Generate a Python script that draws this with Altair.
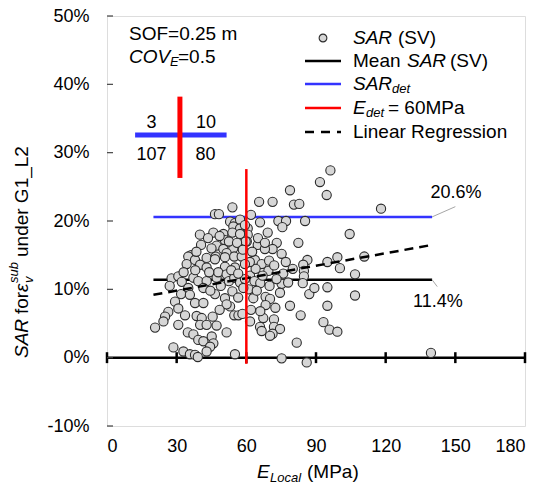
import altair as alt
import pandas as pd

# ---------------- data ----------------
# quadrant: above SAR_det, left of E_det (3)
e_above_left = [54.0, 46.5, 48.2]
sar_above_left = [22.0, 21.0, 21.0]
# above SAR_det, right of E_det (10)
e_above_right = [96.2, 91.7, 94.6, 78.8, 71.3, 65.5, 80.5, 82.8, 118.0, 62.0]
sar_above_right = [27.4, 25.7, 23.8, 24.5, 22.8, 22.8, 22.4, 22.5, 21.8, 20.9]
# below SAR_det, right of E_det (80)
e_below_right = [73.8, 77.1, 75.5, 85.3, 104.5, 82.4, 73.1, 71.3, 75.2, 86.3,
                 84.5, 94.9, 99.2, 100.3, 110.8, 106.8, 84.8, 84.8, 75.9, 75.2,
                 84.3, 87.1, 89.3, 94.9, 106.8, 78.8, 94.9, 83.4, 93.2, 95.8,
                 99.2, 71.9, 71.9, 74.5, 71.3, 81.7, 75.2, 86.0, 139.5, 60.6,
                 60.6, 60.2, 65.9, 69.2, 64.9, 68.0, 63.7, 66.6, 69.8, 69.5,
                 61.6, 63.5, 66.0, 63.0, 68.3, 70.2, 68.3, 61.6, 65.9, 67.3,
                 66.6, 70.2, 62.5, 64.0, 67.0, 72.0, 73.0, 61.0, 64.5, 70.0,
                 62.0, 66.0, 72.5, 77.0, 78.0, 80.0, 61.5, 65.0, 68.0, 74.5]
sar_below_right = [20.0, 20.0, 19.1, 20.0, 18.1, 16.8, 16.8, 15.9, 15.2, 14.3,
                   13.6, 14.0, 14.7, 13.1, 14.8, 12.2, 12.7, 11.9, 12.3, 10.8,
                   10.9, 9.3, 10.2, 10.3, 9.1, 7.6, 7.6, 6.2, 5.2, 4.1,
                   3.8, 5.6, 4.5, 4.2, 3.5, 2.2, -0.1, -0.7, 0.7, 18.9,
                   18.0, 17.0, 19.8, 18.3, 16.5, 15.9, 14.3, 13.7, 14.2, 12.7,
                   12.0, 11.2, 10.9, 8.7, 8.9, 8.6, 7.7, 5.3, 4.5, 5.8,
                   3.9, 3.2, 15.5, 13.0, 12.0, 13.5, 11.5, 10.0, 9.8, 10.5,
                   7.0, 6.8, 7.3, 14.0, 11.0, 13.0, 14.0, 17.5, 16.8, 9.5]
# below SAR_det, left of E_det (107)
e_below_left = [53.0, 55.1, 57.3, 54.4, 57.3, 59.4, 45.8, 50.1, 50.8, 54.0,
                57.3, 59.7, 40.5, 47.2, 50.1, 54.4, 51.5, 36.2, 35.0, 42.9,
                46.8, 50.8, 54.8, 58.0, 34.3, 37.9, 40.1, 42.9, 46.5, 50.8,
                55.1, 59.4, 27.8, 30.7, 32.2, 37.2, 39.3, 42.9, 47.2, 47.9,
                51.5, 52.5, 54.8, 57.3, 59.4, 41.5, 35.0, 46.5, 50.8, 54.0,
                58.7, 31.9, 35.7, 29.3, 30.7, 37.9, 41.5, 53.0, 51.5, 26.4,
                25.0, 24.3, 20.7, 33.6, 38.6, 40.8, 40.1, 42.9, 47.2, 51.5,
                30.7, 34.8, 37.2, 39.3, 41.5, 45.1, 45.8, 44.4, 42.9, 54.8,
                56.6, 58.3, 28.6, 32.9, 35.7, 37.9, 39.1, 55.1, 40.0, 43.5,
                45.0, 48.5, 52.5, 56.0, 58.5, 38.5, 44.0, 49.0, 53.5, 56.5,
                33.0, 38.0, 44.5, 48.5, 56.5, 45.5, 27.0]
sar_below_left = [19.9, 19.7, 20.2, 19.2, 18.9, 19.4, 18.3, 18.1, 17.2, 18.3,
                  18.1, 17.0, 16.5, 16.4, 15.9, 16.0, 15.3, 15.0, 14.8, 14.6,
                  14.8, 14.7, 14.8, 14.8, 13.7, 14.3, 13.6, 13.2, 14.4, 13.3,
                  13.2, 13.7, 11.6, 11.9, 11.1, 11.7, 11.2, 11.2, 11.7, 12.5,
                  12.2, 11.2, 11.7, 11.0, 11.5, 10.2, 10.2, 9.3, 8.7, 9.7,
                  10.2, 9.3, 9.2, 8.2, 7.2, 8.0, 8.0, 7.5, 7.8, 6.7,
                  6.0, 5.3, 4.4, 6.2, 6.1, 5.8, 4.8, 4.8, 4.7, 3.7,
                  4.8, 3.7, 3.4, 2.6, 2.4, 3.1, 2.1, 1.6, 0.9, 6.2,
                  6.2, 6.4, 1.5, 0.9, 0.5, 0.4, 0.1, 0.5, 18.0, 17.5,
                  16.0, 17.8, 17.0, 16.8, 15.8, 15.5, 12.5, 10.5, 12.8, 12.3,
                  12.5, 12.8, 9.8, 7.0, 8.8, 6.0, 10.5]

mean_sar = 11.4
sar_det = 20.6
e_det = 60
line_x_range = [20, 140]
red_y_range = [-0.9, 27.6]
reg_x = [20, 140]
reg_y = [9.2, 16.5]
quadrant_labels = ["3", "10", "107", "80"]
x_ticks = [0, 30, 60, 90, 120, 150, 180]
y_ticks = [-10, 0, 10, 20, 30, 40, 50]

# ---------------- chart ----------------
FONT = "Liberation Sans"
BLUE = "#3333ff"
RED = "#ff0000"
W, H = 418, 410

xs = alt.Scale(domain=[0, 180], nice=False, zero=False)
ys = alt.Scale(domain=[-10, 50], nice=False, zero=False)

x_axis = alt.Axis(values=x_ticks, title=None, ticks=False, domain=False, grid=False,
                  labelFont=FONT, labelFontSize=18, labelColor="#000000", labelPadding=11)
y_axis = alt.Axis(values=y_ticks, title=None, ticks=False, domain=False, grid=False,
                  labelExpr="datum.value + '%'", labelFont=FONT, labelFontSize=18,
                  labelColor="#000000", labelPadding=18)


def X(f):
    return alt.X(f, scale=xs, axis=x_axis)


def Y(f):
    return alt.Y(f, scale=ys, axis=y_axis)


e_all = e_above_left + e_above_right + e_below_right + e_below_left
s_all = sar_above_left + sar_above_right + sar_below_right + sar_below_left
pts_df = pd.DataFrame({"E": e_all, "SAR": s_all})

one = pd.DataFrame({"k": [0]})

# zero line with ticks
zero_df = pd.DataFrame({"x": [0], "x2": [180], "y": [0]})
zero_line = alt.Chart(zero_df).mark_rule(color="#000000", strokeWidth=2.5).encode(
    x=X("x:Q"), x2="x2:Q", y=Y("y:Q"))
tick_df = pd.DataFrame({"x": x_ticks, "y": [0.8] * len(x_ticks), "y2": [-0.8] * len(x_ticks)})
zero_ticks = alt.Chart(tick_df).mark_rule(color="#000000", strokeWidth=2.5).encode(
    x=X("x:Q"), y=Y("y:Q"), y2="y2:Q")

ytick_df = pd.DataFrame({"y": y_ticks})
y_in_ticks = alt.Chart(ytick_df).mark_rule(color="#444444", strokeWidth=1.2).encode(
    y=Y("y:Q"), x=alt.value(0), x2=alt.value(6))


def hline(yv, color, width):
    df = pd.DataFrame({"x": [line_x_range[0]], "x2": [line_x_range[1]], "y": [yv]})
    return alt.Chart(df).mark_rule(color=color, strokeWidth=width).encode(
        x=X("x:Q"), x2="x2:Q", y=Y("y:Q"))


blue_line = hline(sar_det, BLUE, 2.5)
mean_line = hline(mean_sar, "#000000", 2.5)

points = alt.Chart(pts_df).mark_point(shape="circle", filled=True, fill="#d6d6d6",
                                      stroke="#2b2b2b", strokeWidth=1.1, size=85,
                                      opacity=1, fillOpacity=1, strokeOpacity=1).encode(
    x=X("E:Q"), y=Y("SAR:Q"))

reg_df = pd.DataFrame({"x": reg_x, "y": reg_y})
reg_line = alt.Chart(reg_df).mark_line(color="#000000", strokeWidth=2.5, strokeDash=[9, 6]).encode(
    x=X("x:Q"), y=Y("y:Q"))

red_df = pd.DataFrame({"x": [e_det], "y": [red_y_range[0]], "y2": [red_y_range[1]]})
red_line = alt.Chart(red_df).mark_rule(color=RED, strokeWidth=2.5).encode(
    x=X("x:Q"), y=Y("y:Q"), y2="y2:Q")

# inset cross
inset_h = alt.Chart(pd.DataFrame({"x": [12.1], "x2": [51.5], "y": [32.6]})).mark_rule(
    color=BLUE, strokeWidth=5).encode(x=X("x:Q"), x2="x2:Q", y=Y("y:Q"))
inset_v = alt.Chart(pd.DataFrame({"x": [31.4], "y": [26.3], "y2": [38.2]})).mark_rule(
    color=RED, strokeWidth=5).encode(x=X("x:Q"), y=Y("y:Q"), y2="y2:Q")
inset_txt_df = pd.DataFrame({"x": [19.2, 42.6, 19.2, 42.4], "y": [34.4, 34.4, 29.7, 29.7],
                             "t": quadrant_labels})
inset_txt = alt.Chart(inset_txt_df).mark_text(font=FONT, fontSize=18, color="#000000",
                                              align="center", baseline="middle").encode(
    x=X("x:Q"), y=Y("y:Q"), text="t:N")

# value annotations
ann_df = pd.DataFrame({"x": [150.3, 142.5], "y": [24.1, 8.2], "t": ["20.6%", "11.4%"]})
ann_txt = alt.Chart(ann_df).mark_text(font=FONT, fontSize=18, color="#000000",
                                      align="center", baseline="middle").encode(
    x=X("x:Q"), y=Y("y:Q"), text="t:N")
lead_df = pd.DataFrame({"x": [140, 140], "y": [sar_det, mean_sar],
                        "x2": [150.0, 142.2], "y2": [22.1, 10.4]})
leaders = alt.Chart(lead_df).mark_rule(color="#a6a6a6", strokeWidth=1).encode(
    x=X("x:Q"), y=Y("y:Q"), x2="x2:Q", y2="y2:Q")


def txt(t, x, y, size=19, italic=False, align="left", baseline="middle", angle=None):
    kw = dict(text=t, font=FONT, fontSize=size, color="#000000", align=align, baseline=baseline)
    if italic:
        kw["fontStyle"] = "italic"
    if angle is not None:
        kw["angle"] = angle
    return alt.Chart(one).mark_text(**kw).encode(x=alt.value(x), y=alt.value(y))


texts = [
    # top-left info
    txt("SOF=0.25 m", 22, 18),
    txt("COV", 22, 41, italic=True),
    txt("E", 63, 46, size=13, italic=True),
    txt("=0.5", 71, 41),
    # legend text
    txt("SAR", 246, 22, italic=True),
    txt("(SV)", 291, 22),
    txt("Mean", 246, 45),
    txt("SAR", 300, 45, italic=True),
    txt("(SV)", 343, 45),
    txt("SAR", 246, 68, italic=True),
    txt("det", 285, 73, size=13, italic=True),
    txt("E", 246, 92, italic=True),
    txt("det", 259, 97, size=13, italic=True),
    txt("= 60MPa", 281, 92),
    txt("Linear Regression", 246, 116),
    # x title
    txt("E", 150, 462, italic=True, baseline="alphabetic"),
    txt("Local", 163, 466, size=13, italic=True, baseline="alphabetic"),
    txt("(MPa)", 200, 462, baseline="alphabetic"),
    # y title (rotated)
    txt("SAR", -79, 342, italic=True, baseline="alphabetic", angle=270),
    txt("for", -79, 298, baseline="alphabetic", angle=270),
    txt("ε", -79, 276, italic=True, baseline="alphabetic", angle=270),
    txt("v", -74, 267, size=13, italic=True, baseline="alphabetic", angle=270),
    txt("sub", -89, 267, size=13, italic=True, baseline="alphabetic", angle=270),
    txt("under G1_L2", -79, 241, baseline="alphabetic", angle=270),
]

# legend symbols
leg_pt = alt.Chart(one).mark_point(shape="circle", filled=True, fill="#d6d6d6", stroke="#2b2b2b",
                                   strokeWidth=1.1, size=60, opacity=1).encode(
    x=alt.value(216), y=alt.value(22))


def leg_line(y, color, dash=None):
    kw = dict(color=color, strokeWidth=2.5)
    if dash:
        kw["strokeDash"] = dash
    return alt.Chart(one).mark_rule(**kw).encode(x=alt.value(198), x2=alt.value(234), y=alt.value(y))


legend = [leg_pt, leg_line(45, "#000000"), leg_line(68, BLUE), leg_line(92, RED),
          leg_line(116, "#000000", [9, 7])]

chart = alt.layer(
    zero_line, zero_ticks, y_in_ticks, blue_line, mean_line, points, reg_line, red_line,
    inset_h, inset_v, inset_txt, ann_txt, leaders, *legend, *texts
).properties(
    width=W, height=H,
    padding={"left": 107, "top": 16, "right": 16, "bottom": 64},
    autosize=alt.AutoSizeParams(type="none"),
).configure_view(
    stroke="#444444", strokeWidth=1.5
).configure(background="white")

chart.save("out.html", embed_options={"renderer": "svg", "actions": False})
